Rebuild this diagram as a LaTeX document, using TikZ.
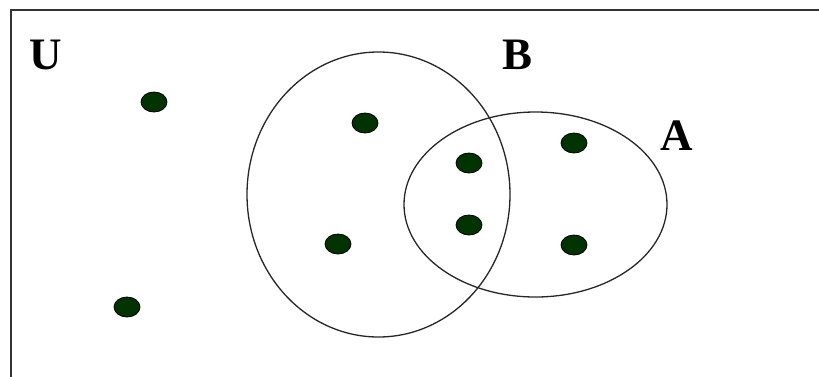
\documentclass[tikz,border=0pt]{standalone}
\usepackage{fontspec}
\usetikzlibrary{shapes.geometric}
\setmainfont{Liberation Serif}
\begin{document}
\begin{tikzpicture}[x=1pt,y=-1pt,
  dot/.style={ellipse,draw=black,line width=0.8pt,fill=dotgreen,minimum width=26pt,minimum height=20pt,inner sep=0pt},
  setline/.style={draw=black!85,line width=1.3pt},
  lbl/.style={font=\fontsize{45}{45}\selectfont\bfseries,inner sep=0pt}]
\definecolor{dotgreen}{HTML}{003300}
\useasboundingbox (0,0) rectangle (819,376);
\clip (0,0) rectangle (819,376);
\draw[draw=black!80,line width=2pt] (11,400) -- (11,10) -- (830,10);
\draw[setline] (378.5,194.5) ellipse [x radius=131.5, y radius=142.5];
\draw[setline] (535.5,204.5) ellipse [x radius=131.5, y radius=92.5];
\node[lbl] (U) at (46,55) {U};
\node[lbl] (B) at (518,55) {B};
\node[lbl] (A) at (677,136) {A};
\node[dot] (d1) at (154,102) {};
\node[dot] (d2) at (365,123) {};
\node[dot] (d3) at (469,163) {};
\node[dot] (d4) at (574,143) {};
\node[dot] (d5) at (469,225) {};
\node[dot] (d6) at (338,244) {};
\node[dot] (d7) at (574,245) {};
\node[dot] (d8) at (127,307) {};
\end{tikzpicture}
\end{document}
